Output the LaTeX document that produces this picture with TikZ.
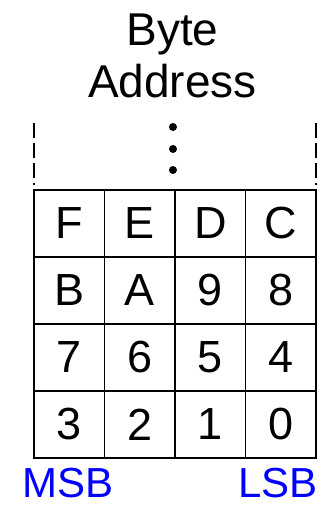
\documentclass[tikz,border=0pt]{standalone}
\usepackage{fontspec}
\setmainfont{Liberation Sans}
\definecolor{sideBlue}{RGB}{0,0,255}

\begin{document}
\begin{tikzpicture}[
  x=1pt, y=-1pt,
  cell/.style={
    rectangle,
    draw=black,
    line width=1.6pt,
    inner sep=0pt,
    minimum width=70.5pt,
    minimum height=67pt,
    font=\fontsize{45}{45}\selectfont,
  },
  title/.style={font=\fontsize{46}{46}\selectfont, inner sep=0pt, anchor=base},
  side/.style={font=\fontsize{42}{42}\selectfont, text=sideBlue, inner sep=0pt},
  edge/.style={line width=1.6pt, dash pattern=on 15pt off 5pt},
]
  \useasboundingbox (0,0) rectangle (322,507);

  \node[title] (byte) at (172.5,45) {Byte};
  \node[title] (addr) at (172.5,97) {Address};

  % byte cells, MSB on the left
  \foreach \lbl [count=\i from 0] in {F,E,D,C,B,A,9,8,7,6,5,4,3,2,1,0} {
    \pgfmathtruncatemacro{\col}{mod(\i,4)}
    \pgfmathtruncatemacro{\row}{div(\i,4)}
    \node[cell] (c\i) at ({69.25+70.5*\col},{223.5+67*\row}) {\lbl};
  }

  \coordinate (lt) at (34,123);
  \coordinate (lb) at (34,185);
  \coordinate (rt) at (316,123);
  \coordinate (rb) at (316,185);
  \draw[edge] (lt) -- (lb);
  \draw[edge] (rt) -- (rb);

  \foreach \y in {127,149,170}
    \fill (173,\y) circle (4pt);

  \node[side, anchor=base west] (msb) at (22,497) {MSB};
  \node[side, anchor=base east] (lsb) at (318,497) {LSB};

\end{tikzpicture}
\end{document}
